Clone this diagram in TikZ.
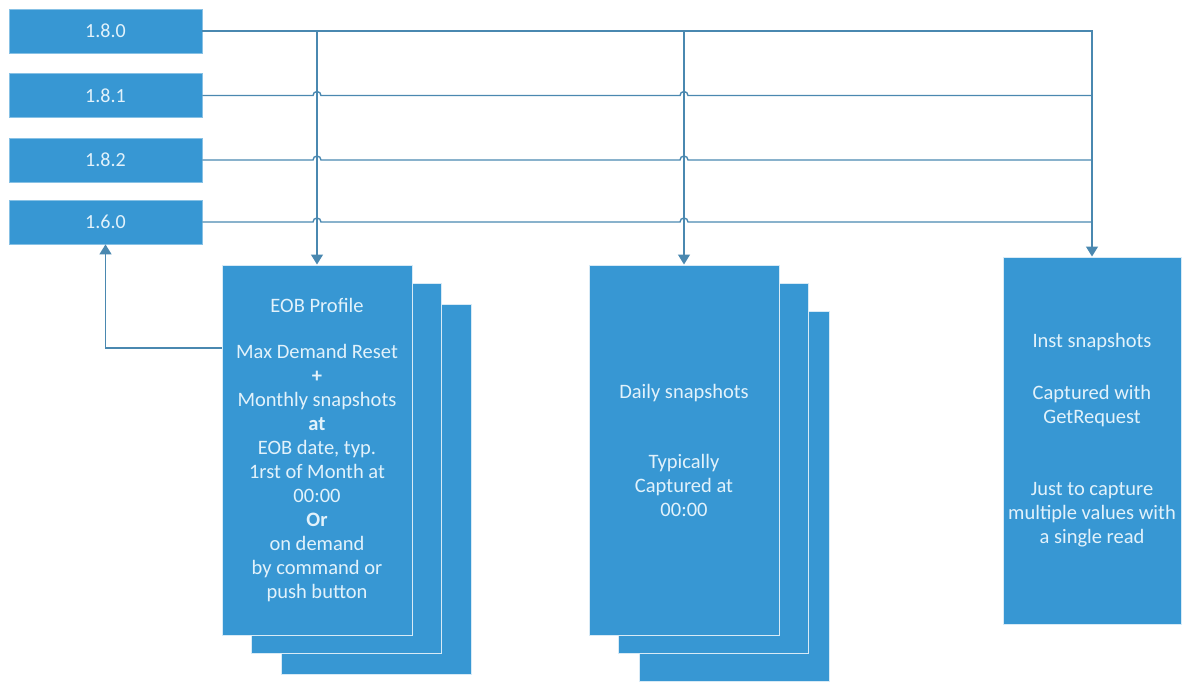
\documentclass[tikz,border=0pt]{standalone}
\usepackage{fontspec}
\setmainfont{Carlito}
\usetikzlibrary{arrows.meta}
\definecolor{boxblue}{RGB}{55,151,211}
\definecolor{boxtext}{RGB}{226,242,251}
\definecolor{wirecol}{RGB}{74,136,176}

\begin{document}
\begin{tikzpicture}[x=1pt, y=-1pt,
    reg/.style={fill=boxblue, draw=boxblue!60!white, line width=0.8pt, minimum width=193pt, minimum height=44pt, inner sep=0pt, text=boxtext, font=\fontsize{20}{24}\selectfont},
    card/.style={fill=boxblue, draw=white!80!boxblue, line width=1pt, minimum width=190pt, minimum height=370pt, inner sep=0pt, text=boxtext, align=center, font=\fontsize{20.5}{24}\selectfont},
    wire/.style={draw=wirecol, line width=1.4pt},
    flow/.style={wire, -{Triangle[width=12pt,length=10pt]}},
  ]
  \useasboundingbox (0,0) rectangle (1182,686);

  % Register boxes
  \node[reg] (r180) at (105.5,31) {1.8.0};
  \node[reg] (r181) at (105.5,95.5) {1.8.1};
  \node[reg] (r182) at (105.5,160) {1.8.2};
  \node[reg] (r160) at (105.5,222) {1.6.0};

  % EOB stack (back to front)
  \node[card] (eob3) at (376,489) {};
  \node[card] (eob2) at (346.5,468.5) {};
  \node[card] (eob) at (317,450) {EOB Profile\\[22pt]
    Max Demand Reset\\ \textbf{+}\\ Monthly snapshots\\ \textbf{at}\\
    EOB date, typ.\\ 1rst of Month at\\ 00:00\\ \textbf{Or}\\
    on demand\\ by command or\\ push button};

  % Daily stack (back to front)
  \node[card] (day3) at (734,496) {};
  \node[card] (day2) at (713,468.5) {};
  \node[card] (day) at (684,450) {Daily snapshots\\[46pt]
    Typically\\ Captured at\\ 00:00};

  % Instantaneous box
  \node[card, minimum width=178pt, minimum height=367pt] (inst) at (1092,440.5) {Inst snapshots\\[28pt]
    Captured with\\ GetRequest\\[48pt]
    Just to capture\\ multiple values with\\ a single read};

  % Bus from 1.8.0 down to the three targets
  \draw[flow] (r180.east) -| (inst.north);
  \draw[flow] (eob.north |- r180.east) -- (eob.north);
  \draw[flow] (day.north |- r180.east) -- (day.north);

  % Other registers, hopping over the drops
  \foreach \r in {r181,r182,r160} {
    \draw[wire] (\r.east) -- (313,0 |- \r.east)
      arc[start angle=180, end angle=360, radius=4]
      -- (680,0 |- \r.east)
      arc[start angle=180, end angle=360, radius=4]
      -- (inst.north |- \r.east);
  }

  % Max demand reset back to 1.6.0
  \coordinate (fb) at (eob.west |- 0,348);
  \draw[flow] (fb) -| (r160.south);
\end{tikzpicture}
\end{document}
